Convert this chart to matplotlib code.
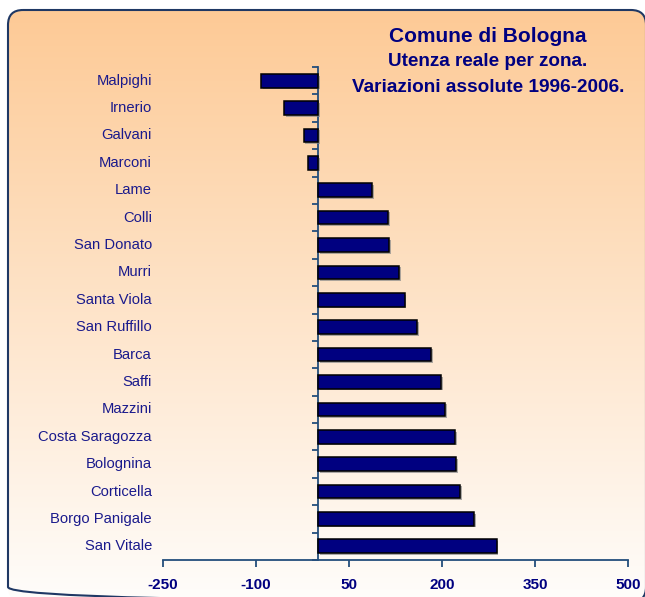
import numpy as np
import matplotlib
matplotlib.use("Agg")
import matplotlib.pyplot as plt
from matplotlib.patches import FancyBboxPatch
import matplotlib.patheffects as pe
from matplotlib.transforms import blended_transform_factory

# ---- data ----
zones = ["Malpighi", "Irnerio", "Galvani", "Marconi", "Lame", "Colli",
         "San Donato", "Murri", "Santa Viola", "San Ruffillo", "Barca",
         "Saffi", "Mazzini", "Costa Saragozza", "Bolognina", "Corticella",
         "Borgo Panigale", "San Vitale"]
variation = [-92, -55, -23, -16, 87, 113, 115, 131, 140, 160, 182,
             199, 205, 221, 223, 229, 252, 288]
xticks = [-250, -100, 50, 200, 350, 500]
title_lines = ["Comune di Bologna", "Utenza reale per zona.",
               "Variazioni assolute 1996-2006."]

plt.rcParams['font.family'] = ['Liberation Sans', 'DejaVu Sans']

W, H = 645, 597
fig = plt.figure(figsize=(W / 100, H / 100), dpi=100)
fig.patch.set_facecolor('white')

# ---- background frame with gradient ----
bg = fig.add_axes([0, 0, 1, 1])
bg.set_xlim(0, W)
bg.set_ylim(H, 0)
bg.axis('off')
top = np.array([253, 202, 150]) / 255
bot = np.array([255, 253, 251]) / 255
t = np.linspace(0, 1, 256).reshape(-1, 1, 1)
img = top * (1 - t) + bot * t
img = np.repeat(img, 2, axis=1)
box = FancyBboxPatch((8, 10), 638, 592,
                     boxstyle="round,pad=0,rounding_size=15",
                     facecolor='none', edgecolor='#1F3864', linewidth=1.5,
                     zorder=3)
bg.add_patch(box)
im = bg.imshow(img, extent=[8, 646, 602, 10], aspect='auto', zorder=1)
im.set_clip_path(box)

# ---- main axes ----
x0, x1 = 163, 628
y0, y1 = 67, 560
ax = fig.add_axes([x0 / W, 1 - y1 / H, (x1 - x0) / W, (y1 - y0) / H])
ax.patch.set_alpha(0)

ypos = np.arange(len(zones))
bars = ax.barh(ypos, variation, height=0.5, color='#000080',
               edgecolor='black', linewidth=1.1, zorder=3)
for b in bars:
    b.set_path_effects([pe.SimplePatchShadow(offset=(1.2, -1.2),
                                             shadow_rgbFace='#8a8a8a',
                                             alpha=0.7),
                        pe.Normal()])

ax.set_xlim(-250, 500)
ax.set_ylim(len(zones) - 0.5, -0.5)

axis_col = '#234E7C'
for s in ['top', 'right']:
    ax.spines[s].set_visible(False)
ax.spines['left'].set_position(('data', 0))
ax.spines['left'].set_color(axis_col)
ax.spines['left'].set_linewidth(1.3)
ax.spines['bottom'].set_color(axis_col)
ax.spines['bottom'].set_linewidth(1.3)

ax.set_xticks(xticks)
ax.set_xticklabels([str(v) for v in xticks], fontweight='bold',
                   fontsize=11, color='#000080')
ax.tick_params(axis='x', direction='out', length=5, width=1.3,
               color=axis_col, pad=8)

ax.set_yticks(np.arange(-0.5, len(zones), 1.0))
ax.set_yticklabels([])
ax.tick_params(axis='y', direction='out', length=4, width=1.3,
               color=axis_col)

trans = blended_transform_factory(ax.transAxes, ax.transData)
for y, name in zip(ypos, zones):
    ax.text(-11 / (x1 - x0), y, name, transform=trans, ha='right',
            va='center', fontsize=10.6, color='#1a1a8c')

# ---- title ----
fig.text(488 / W, 1 - 37 / H, title_lines[0], ha='center', va='center',
         fontsize=15, fontweight='bold', color='#000080')
fig.text(488 / W, 1 - 62 / H, title_lines[1], ha='center', va='center',
         fontsize=13.6, fontweight='bold', color='#000080')
fig.text(488 / W, 1 - 87 / H, title_lines[2], ha='center', va='center',
         fontsize=13.7, fontweight='bold', color='#000080')

fig.savefig('out.png', dpi=100)
